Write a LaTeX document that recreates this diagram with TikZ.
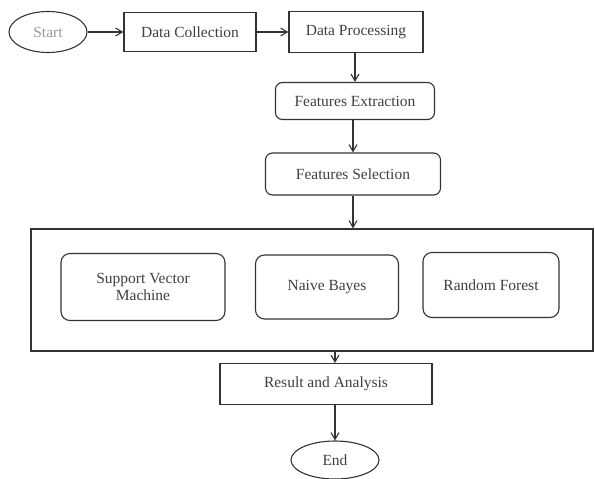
\documentclass[tikz,border=0pt]{standalone}
\usepackage{fontspec}
\setmainfont{Liberation Serif}
\usepackage{tikz}
\usetikzlibrary{positioning,arrows.meta,calc,shapes.geometric}
\tikzset{
  flowbox/.style={draw=black!80, line width=1.1pt, align=center, text=black!75,
    font=\fontsize{15.5}{17}\selectfont, inner sep=2pt},
  flowround/.style={flowbox, rounded corners=7pt},
  flowterm/.style={flowbox, ellipse, inner sep=0pt},
  flowarrow/.style={-{Straight Barb[length=2.4mm, width=2.8mm]}, line width=1.1pt, draw=black!80},
}

\begin{document}
\begin{tikzpicture}[x=1pt, y=-1pt]
  \useasboundingbox (0,0) rectangle (595,479);
  \node[flowterm, minimum width=78pt, minimum height=41pt, text=black!40] (start) at (48,32) {Start};
  \node[flowbox, minimum width=132pt, minimum height=39pt] (collect) at (190,32) {Data Collection};
  \node[flowbox, minimum width=134pt, minimum height=41pt] (process) at (356,32) {Data Processing};
  \node[flowround, minimum width=159pt, minimum height=37pt] (extract) at (355,101) {Features Extraction};
  \node[flowround, minimum width=175pt, minimum height=42pt] (select) at (353,174) {Features Selection};
  \node[flowbox, minimum width=562pt, minimum height=122pt] (models) at (312,290) {};
  \node[flowround, rounded corners=9pt, minimum width=164pt, minimum height=67pt] (svm) at (143,287) {Support Vector\\Machine};
  \node[flowround, rounded corners=9pt, minimum width=143pt, minimum height=64pt] (nb) at (327,287) {Naive Bayes};
  \node[flowround, rounded corners=9pt, minimum width=136pt, minimum height=65pt] (rf) at (491,285) {Random Forest};
  \node[flowbox, minimum width=212pt, minimum height=41pt] (result) at (326,384) {Result and Analysis};
  \node[flowterm, minimum width=88pt, minimum height=38pt] (finish) at (335,460) {End};
  % main flow
  \draw[flowarrow] (start.east) -- (collect.west);
  \draw[flowarrow] (collect.east) -- (process.west);
  \draw[flowarrow] (process.south -| extract) -- (extract.north);
  \draw[flowarrow] (extract.south -| select) -- (select.north);
  \draw[flowarrow] (select.south) -- (select.south |- models.north);
  \draw[flowarrow] (models.south -| finish) -- (result.north -| finish);
  \draw[flowarrow] (result.south -| finish) -- (finish.north);
\end{tikzpicture}
\end{document}
